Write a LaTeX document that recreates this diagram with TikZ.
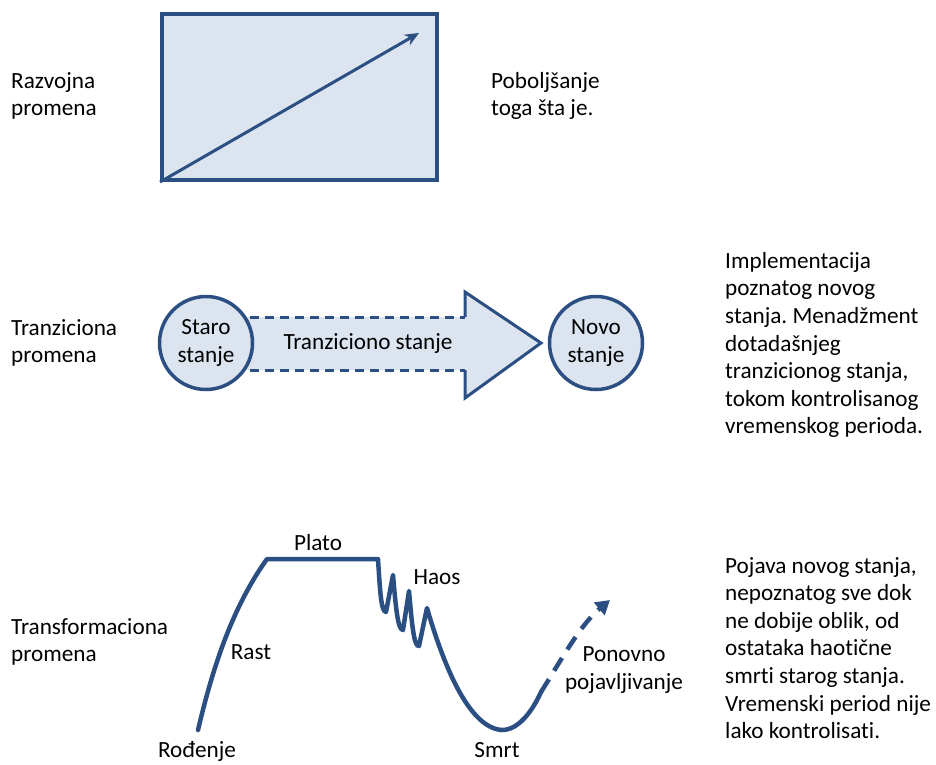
\documentclass[tikz,border=0pt]{standalone}
\usepackage{fontspec}
\setmainfont{Carlito}[Ligatures=NoCommon]
\frenchspacing
\usetikzlibrary{arrows.meta}
\definecolor{edge}{HTML}{2B4F82}
\definecolor{paleblue}{HTML}{DCE4EF}
\tikzset{
  txt/.style={font=\fontsize{23.2}{27.6}\selectfont, inner sep=0pt, text=black},
  lefttxt/.style={txt, align=left, anchor=west},
  state/.style={circle, draw=edge, fill=paleblue, line width=3.5pt, minimum size=93pt, inner sep=0pt, txt, align=center},
  curveline/.style={draw=edge, line width=4.5pt, line cap=round, line join=round},
}
\begin{document}
\begin{tikzpicture}[x=1pt,y=-1pt]
\useasboundingbox (0,0) rectangle (936,764);

% Row 1: developmental change
\node[lefttxt] (razvojna) at (11,96) {Razvojna\\promena};
\node[draw=edge, fill=paleblue, line width=4pt, minimum width=275pt, minimum height=166pt, inner sep=0pt] (box) at (299.5,97) {};
\coordinate (boxstart) at (box.south west);
\coordinate (boxend) at (419,33);
\draw[edge, line width=3pt, -{Stealth[length=14pt,width=12pt]}] (boxstart) -- (boxend);
\node[lefttxt] (poboljsanje) at (491,96) {Poboljšanje\\toga šta je.};

% Row 2: transitional change
\node[lefttxt] (tranziciona) at (11,343) {Tranziciona\\promena};
\fill[paleblue] (230,317) -- (465,317) -- (465,292) -- (541,343) -- (465,398) -- (465,370) -- (230,370) -- cycle;
\draw[edge, line width=3pt, dashed, dash pattern=on 9pt off 6pt] (250,317) -- (465,317);
\draw[edge, line width=3pt, dashed, dash pattern=on 9pt off 6pt] (250,370) -- (465,370);
\draw[edge, line width=3pt, line join=miter] (465,317) -- (465,292) -- (541,343) -- (465,398) -- (465,370);
\node[txt] (tranzicionostanje) at (368,343) {Tranziciono stanje};
\node[state] (staro) at (206,343) {Staro\\stanje};
\node[state] (novo) at (596,343) {Novo\\stanje};
\node[lefttxt] (implementacija) at (725,345) {Implementacija\\poznatog novog\\stanja. Menadžment\\dotadašnjeg\\tranzicionog stanja,\\tokom kontrolisanog\\vremenskog perioda.};

% Row 3: transformational change
\node[lefttxt] (transformaciona) at (11,642) {Transformaciona\\promena};
\coordinate (birth) at (198,730);
\coordinate (peak) at (267,559);
\coordinate (plateauend) at (378,559);
\coordinate (chaosend) at (427,608);
\coordinate (death) at (502,730);
\coordinate (rebirth) at (541,692);
\coordinate (future) at (610,600);
\draw[curveline] (birth) .. controls (214,662) and (234,605) .. (peak) -- (plateauend)
  .. controls (380,590) and (381,612) .. (386,612) -- (393,575)
  .. controls (396,610) and (398,630) .. (403,630) -- (409,591)
  .. controls (412,625) and (414,647) .. (419,646) -- (chaosend)
  .. controls (445,670) and (470,728) .. (death)
  .. controls (518,730) and (532,712) .. (rebirth);
\draw[curveline, line cap=butt, dash pattern=on 15pt off 10pt, -{Triangle[length=14pt,width=16pt]}]
  (rebirth) .. controls (560,662) and (580,625) .. (future);

\node[txt] (plato) at (318,543) {Plato};
\node[txt] (haos) at (437,577) {Haos};
\node[txt] (rast) at (251,652) {Rast};
\node[txt, anchor=base] (rodjenje) at (197,757) {Rođenje};
\node[txt] (smrt) at (497,750) {Smrt};
\node[txt, align=center] (ponovno) at (624,670) {Ponovno\\pojavljivanje};
\node[lefttxt] (pojava) at (725,648) {Pojava novog stanja,\\nepoznatog sve dok\\ne dobije oblik, od\\ostataka haotične\\smrti starog stanja.\\Vremenski period nije\\lako kontrolisati.};
\end{tikzpicture}
\end{document}
